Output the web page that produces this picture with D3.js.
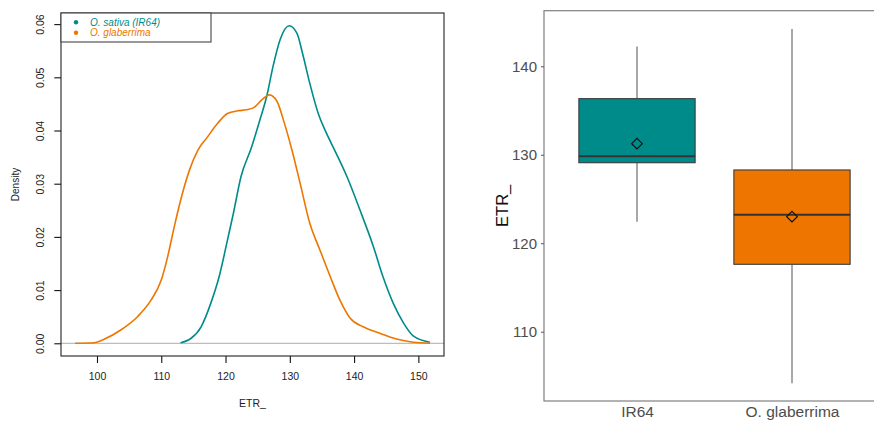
<!DOCTYPE html>
<html>
<head>
<meta charset="utf-8">
<script src="https://cdn.jsdelivr.net/npm/d3@7"></script>
<style>
  html, body { margin: 0; padding: 0; background: #fff; }
  svg { display: block; font-family: "Liberation Sans", Arial, Helvetica, sans-serif; }
</style>
</head>
<body>
<svg id="chart" width="874" height="422"></svg>
<script>
// ---- Kernel density estimates of ETR_ (x value, density) ----
const sativaX = [113.0, 114.6, 116.2, 117.7, 119.0, 120.3, 121.2, 122.4, 124.0, 125.4, 126.4, 127.4, 128.5, 129.9, 131.1, 132.1, 133.1, 134.4, 135.7, 137.1, 138.9, 140.9, 143.0, 144.5, 146.1, 147.7, 149.2, 151.8];
const sativaD = [0.0001, 0.0009, 0.0031, 0.0075, 0.0125, 0.0194, 0.0243, 0.0313, 0.0367, 0.0422, 0.0464, 0.0521, 0.0571, 0.0597, 0.0583, 0.0539, 0.0489, 0.0433, 0.0395, 0.0360, 0.0313, 0.0251, 0.0182, 0.0125, 0.0075, 0.0038, 0.0014, 0.0002];

const glabX = [96.6, 99.6, 101.1, 103.7, 106.3, 108.4, 110.0, 111.0, 112.0, 113.3, 114.4, 115.7, 117.2, 118.8, 120.3, 121.9, 123.2, 124.4, 125.6, 126.8, 128.0, 129.0, 130.4, 131.6, 133.1, 134.7, 136.3, 137.8, 139.4, 141.4, 144.0, 146.6, 149.2, 151.8];
const glabD = [0.0, 0.0001, 0.00075, 0.0025, 0.0050, 0.0081, 0.0119, 0.0163, 0.0218, 0.0282, 0.0326, 0.0363, 0.0388, 0.0414, 0.0432, 0.0437, 0.0439, 0.0443, 0.0457, 0.0467, 0.0455, 0.0420, 0.0360, 0.0301, 0.0226, 0.0175, 0.0125, 0.0081, 0.0047, 0.0031, 0.0019, 0.0008, 0.0002, 0.0];

const densityXTicks = [100, 110, 120, 130, 140, 150];
const densityYTicks = [0, 0.01, 0.02, 0.03, 0.04, 0.05, 0.06];
const legendLabels = ["O. sativa (IR64)", "O. glaberrima"];

// ---- Box plot summaries of ETR_ per group ----
const groups   = ["IR64", "O. glaberrima"];
const whiskLo  = [122.43, 104.17];
const q1       = [129.10, 117.62];
const medians  = [129.83, 123.23];
const q3       = [136.34, 128.28];
const whiskHi  = [142.22, 144.22];
const means    = [131.25, 123.00];
const boxYTicks = [110, 120, 130, 140];

const colors = ["#008B8B", "#EE7600"];

const svg = d3.select("#chart");

// =================== Density panel ===================
const L = { left: 61, right: 444, top: 13, bottom: 356 };
const x = d3.scaleLinear().domain([94.40, 153.99]).range([L.left, L.right]);
const y = d3.scaleLinear().domain([-0.00239, 0.06209]).range([L.bottom, L.top]);

const left = svg.append("g");

// zero reference line
left.append("line")
  .attr("x1", L.left).attr("x2", L.right)
  .attr("y1", y(0)).attr("y2", y(0))
  .attr("stroke", "#bdbdbd").attr("stroke-width", 1.2);

const line = d3.line().x(d => x(d[0])).y(d => y(d[1])).curve(d3.curveMonotoneX);
const curves = [d3.zip(sativaX, sativaD), d3.zip(glabX, glabD)];
curves.forEach((pts, i) => {
  left.append("path")
    .attr("d", line(pts))
    .attr("fill", "none")
    .attr("stroke", colors[i])
    .attr("stroke-width", 1.6);
});

// axes
const xAxis = left.append("g")
  .attr("transform", `translate(0,${L.bottom})`)
  .call(d3.axisBottom(x).tickValues(densityXTicks).tickSize(7).tickSizeOuter(0));
xAxis.select(".domain").remove();
xAxis.selectAll("line").attr("stroke", "#111").attr("stroke-width", 1.1);
xAxis.selectAll("text")
  .attr("y", 20.7).attr("dy", "0.35em")
  .attr("fill", "#222").style("font-size", "10.5px");

const yAxis = left.append("g")
  .attr("transform", `translate(${L.left},0)`)
  .call(d3.axisLeft(y).tickValues(densityYTicks).tickFormat(d3.format(".2f")).tickSize(6.7).tickSizeOuter(0));
yAxis.select(".domain").remove();
yAxis.selectAll("line").attr("stroke", "#111").attr("stroke-width", 1.1);
yAxis.selectAll("text")
  .attr("x", null).attr("dy", null)
  .attr("transform", "translate(-21,0) rotate(-90)")
  .attr("text-anchor", "middle")
  .attr("dominant-baseline", "central")
  .attr("fill", "#222").style("font-size", "10.5px");

// frame
left.append("rect")
  .attr("x", L.left).attr("y", L.top)
  .attr("width", L.right - L.left).attr("height", L.bottom - L.top)
  .attr("fill", "none").attr("stroke", "#222").attr("stroke-width", 1.1);

// axis titles
left.append("text")
  .attr("x", (L.left + L.right) / 2).attr("y", 403)
  .attr("text-anchor", "middle").attr("dominant-baseline", "central")
  .attr("fill", "#222").style("font-size", "10.5px")
  .text("ETR_");
left.append("text")
  .attr("transform", `translate(15,${(L.top + L.bottom) / 2}) rotate(-90)`)
  .attr("text-anchor", "middle").attr("dominant-baseline", "central")
  .attr("fill", "#222").style("font-size", "10px")
  .text("Density");

// legend
const lg = left.append("g");
lg.append("rect")
  .attr("x", L.left).attr("y", L.top).attr("width", 150).attr("height", 29)
  .attr("fill", "#fff").attr("stroke", "#444").attr("stroke-width", 1.1);
legendLabels.forEach((lab, i) => {
  const cy = 22.3 + i * 10.4;
  lg.append("circle").attr("cx", 76).attr("cy", cy).attr("r", 2.2).attr("fill", colors[i]);
  lg.append("text")
    .attr("x", 90).attr("y", cy)
    .attr("dominant-baseline", "central")
    .attr("fill", colors[i])
    .style("font-size", "10px").style("font-style", "italic")
    .text(lab);
});

// =================== Box plot panel ===================
const R = { left: 544, right: 885, top: 10.7, bottom: 401 };
const bx = d3.scalePoint().domain(groups).range([R.left, R.right]).padding(0.6);
const by = d3.scaleLinear().domain([102.17, 146.28]).range([R.bottom, R.top]);
const boxW = bx.step() * 0.75;

const right = svg.append("g");

groups.forEach((g, i) => {
  const cx = bx(g);
  // whiskers
  right.append("line")
    .attr("x1", cx).attr("x2", cx).attr("y1", by(q3[i])).attr("y2", by(whiskHi[i]))
    .attr("stroke", "#6e6e6e").attr("stroke-width", 1.2);
  right.append("line")
    .attr("x1", cx).attr("x2", cx).attr("y1", by(q1[i])).attr("y2", by(whiskLo[i]))
    .attr("stroke", "#6e6e6e").attr("stroke-width", 1.2);
  // box
  right.append("rect")
    .attr("x", cx - boxW / 2).attr("y", by(q3[i]))
    .attr("width", boxW).attr("height", by(q1[i]) - by(q3[i]))
    .attr("fill", colors[i]).attr("stroke", "#3a3a3a").attr("stroke-width", 1.1);
  // median
  right.append("line")
    .attr("x1", cx - boxW / 2).attr("x2", cx + boxW / 2)
    .attr("y1", by(medians[i])).attr("y2", by(medians[i]))
    .attr("stroke", "#333").attr("stroke-width", 2);
  // mean marker
  const s = 5.3, my = by(means[i]);
  right.append("path")
    .attr("d", `M${cx},${my - s}L${cx + s},${my}L${cx},${my + s}L${cx - s},${my}Z`)
    .attr("fill", "none").attr("stroke", "#111").attr("stroke-width", 1.2);
});

// panel frame
right.append("rect")
  .attr("x", R.left).attr("y", R.top)
  .attr("width", R.right - R.left).attr("height", R.bottom - R.top)
  .attr("fill", "none").attr("stroke", "#7f7f7f").attr("stroke-width", 1.2);

const byAxis = right.append("g")
  .attr("transform", `translate(${R.left},0)`)
  .call(d3.axisLeft(by).tickValues(boxYTicks).tickSize(3).tickPadding(4).tickSizeOuter(0));
byAxis.select(".domain").remove();
byAxis.selectAll("line").attr("stroke", "#555");
byAxis.selectAll("text").attr("fill", "#4d4d4d").style("font-size", "15px");

const bxAxis = right.append("g")
  .attr("transform", `translate(0,${R.bottom})`)
  .call(d3.axisBottom(bx).tickSize(0).tickPadding(5));
bxAxis.select(".domain").remove();
bxAxis.selectAll("text").attr("fill", "#4d4d4d").style("font-size", "15.5px");

right.append("text")
  .attr("transform", `translate(502,${(R.top + R.bottom) / 2}) rotate(-90)`)
  .attr("text-anchor", "middle").attr("dominant-baseline", "central")
  .attr("fill", "#111").style("font-size", "16.5px")
  .text("ETR_");
</script>
</body>
</html>
